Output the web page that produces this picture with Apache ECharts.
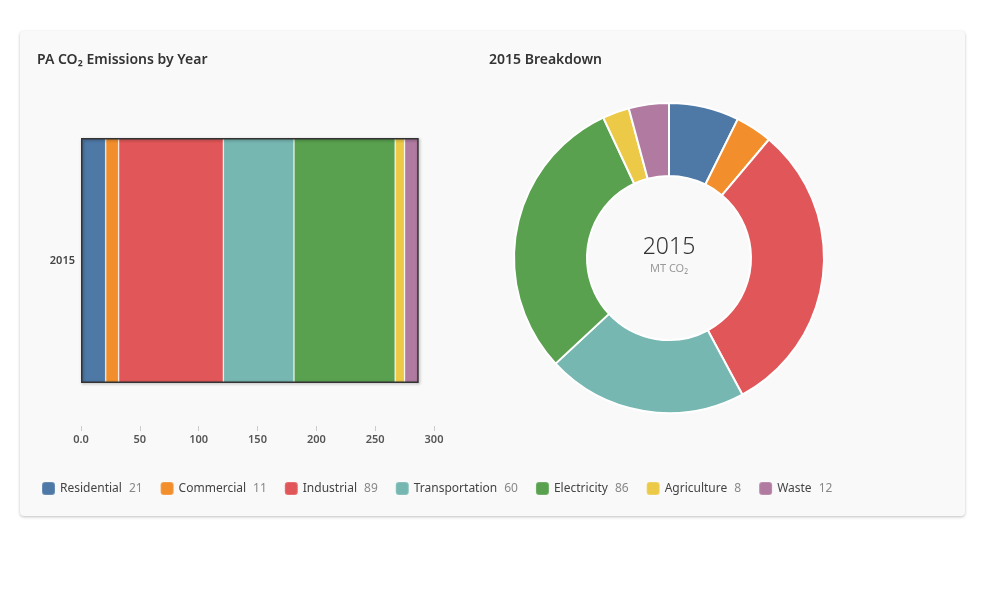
<!DOCTYPE html>
<html>
<head>
<meta charset="utf-8">
<script src="https://cdn.jsdelivr.net/npm/echarts@6/dist/echarts.min.js"></script>
<style>
  html, body { margin: 0; padding: 0; background: #fff; }
  #card {
    position: absolute; left: 20px; top: 31px; width: 945px; height: 485px;
    background: #f9f9f9; border-radius: 4px;
    box-shadow: 0 1px 3px rgba(0, 0, 0, 0.25);
  }
  #main { position: absolute; left: 0; top: 0; width: 1000px; height: 600px; }
</style>
</head>
<body>
<div id="card"></div>
<div id="main"></div>
<script>
// 数据
const year = '2015'
const sectors = ['Residential', 'Commercial', 'Industrial', 'Transportation', 'Electricity', 'Agriculture', 'Waste']
const values = [21, 11, 89, 60, 86, 8, 12]
const colors = ['#4e79a7', '#f28e2b', '#e15759', '#76b7b2', '#59a14f', '#edc948', '#b07aa1']
const xTicks = { min: 0, max: 300, interval: 50 }

const total = values.reduce((sum, v) => sum + v, 0)
const font = 'Noto Sans'

const myChart = echarts.init(document.querySelector('#main'))

// 堆叠条形
const barSeries = sectors.map((name, i) => ({
  name: name,
  type: 'bar',
  stack: 'total',
  barWidth: 245,
  data: [values[i]],
  itemStyle: { color: colors[i], borderColor: 'rgba(255,255,255,0.15)', borderWidth: 1 }
}))

// 外框
barSeries.push({
  name: 'outline',
  type: 'bar',
  stack: 'outline',
  barWidth: 245,
  barGap: '-100%',
  z: 5,
  silent: true,
  data: [total],
  itemStyle: {
    color: 'rgba(0,0,0,0)',
    borderColor: '#333',
    borderWidth: 1.5,
    shadowColor: 'rgba(0,0,0,0.35)',
    shadowBlur: 3,
    shadowOffsetX: 1,
    shadowOffsetY: 1
  }
})

myChart.setOption({
  color: colors,
  textStyle: { fontFamily: font },
  title: [
    {
      text: 'PA CO₂ Emissions by Year',
      left: 37, top: 53, padding: 0,
      textStyle: { fontSize: 14, fontWeight: 600, color: '#333', fontFamily: font }
    },
    {
      text: year + ' Breakdown',
      left: 489, top: 53, padding: 0,
      textStyle: { fontSize: 14, fontWeight: 600, color: '#333', fontFamily: font }
    }
  ],
  legend: {
    data: sectors,
    left: 41,
    top: 481,
    padding: 0,
    icon: 'roundRect',
    itemWidth: 13,
    itemHeight: 13,
    itemGap: 17,
    formatter: name => '{n|' + name + '}{v|' + values[sectors.indexOf(name)] + '}',
    textStyle: {
      rich: {
        n: { fontSize: 12, color: '#444', fontFamily: font },
        v: { fontSize: 12, color: '#888', fontFamily: font, padding: [0, 0, 0, 7] }
      }
    }
  },
  grid: { left: 81, right: 566, top: 95, bottom: 174 },
  xAxis: {
    type: 'value',
    min: xTicks.min,
    max: xTicks.max,
    interval: xTicks.interval,
    splitLine: { show: false },
    axisLine: { show: false },
    axisTick: { show: true, length: 5, lineStyle: { color: '#ccc' } },
    axisLabel: {
      color: '#555', fontSize: 11, fontWeight: 600, margin: 8,
      formatter: v => (v === 0 ? '0.0' : String(v))
    }
  },
  yAxis: {
    type: 'category',
    data: [year],
    axisLine: { show: false },
    axisTick: { show: false },
    axisLabel: { color: '#444', fontSize: 11, fontWeight: 600, margin: 6 }
  },
  graphic: [
    {
      type: 'text',
      style: { text: year, x: 669, y: 247, textAlign: 'center', textVerticalAlign: 'middle', fontSize: 23, fontWeight: 300, fill: '#333', fontFamily: font }
    },
    {
      type: 'text',
      style: { text: 'MT CO₂', x: 669, y: 269, textAlign: 'center', textVerticalAlign: 'middle', fontSize: 11, fill: '#999', fontFamily: font }
    }
  ],
  series: barSeries.concat([
    {
      name: year,
      type: 'pie',
      center: [669, 258],
      radius: [82, 155],
      startAngle: 90,
      clockwise: true,
      label: { show: false },
      labelLine: { show: false },
      itemStyle: { borderColor: '#fff', borderWidth: 2 },
      data: sectors.map((name, i) => ({ name: name, value: values[i] }))
    }
  ])
})
</script>
</body>
</html>
